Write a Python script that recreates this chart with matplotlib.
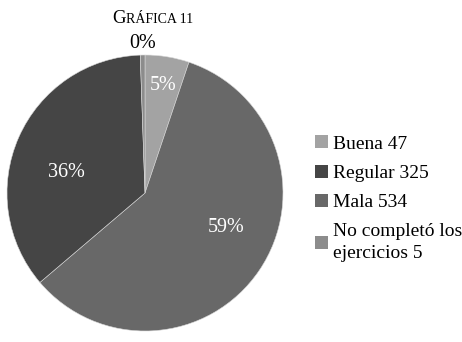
import matplotlib.pyplot as plt
from matplotlib.patches import Patch

categorias = ['Buena', 'Regular', 'Mala', 'No completó los\nejercicios']
valores = [47, 325, 534, 5]
colores = ['#a3a3a3', '#454545', '#686868', '#8c8c8c']
etiquetas_pct = ['5%', '36%', '59%', '0%']
# orden en que aparecen las porciones (sentido horario desde arriba)
orden_pie = [0, 2, 1, 3]

plt.rcParams['font.family'] = ['Liberation Serif', 'DejaVu Serif']

fig = plt.figure(figsize=(4.62, 3.42), dpi=100)
ax = fig.add_axes([7 / 462, 11 / 342, 276 / 462, 276 / 342])

wedges, _ = ax.pie([valores[i] for i in orden_pie],
                   colors=[colores[i] for i in orden_pie],
                   startangle=90, counterclock=False,
                   wedgeprops=dict(edgecolor='#d8d8d8', linewidth=0.4))
ax.set_aspect('equal')
ax.set_xlim(-1, 1)
ax.set_ylim(-1, 1)

# etiquetas de porcentaje
pos = {0: (0.13, 0.78), 1: (-0.57, 0.15), 2: (0.59, -0.25), 3: (-0.02, 1.08)}
for i in orden_pie:
    x, y = pos[i]
    col = 'black' if i == 3 else 'white'
    ax.text(x, y, etiquetas_pct[i], ha='center', va='center', fontsize=14.5, color=col)

# titulo en versalitas
fig.text(0.272, 0.934, 'G', fontsize=13.5, ha='right', va='baseline')
fig.text(0.272, 0.934, 'RÁFICA 11', fontsize=10, ha='left', va='baseline')

handles = [Patch(facecolor=colores[i], edgecolor='none') for i in range(len(categorias))]
textos = [f'{c} {v}' for c, v in zip(categorias, valores)]
leg = fig.legend(handles, textos, loc='upper left', bbox_to_anchor=(0.665, 0.627),
                 frameon=False, fontsize=14, handlelength=0.65, handleheight=0.65,
                 handletextpad=0.3, labelspacing=0.62, borderaxespad=0)
for t in leg.get_texts():
    t.set_linespacing(1.35)

fig.savefig('out.png', dpi=100)
